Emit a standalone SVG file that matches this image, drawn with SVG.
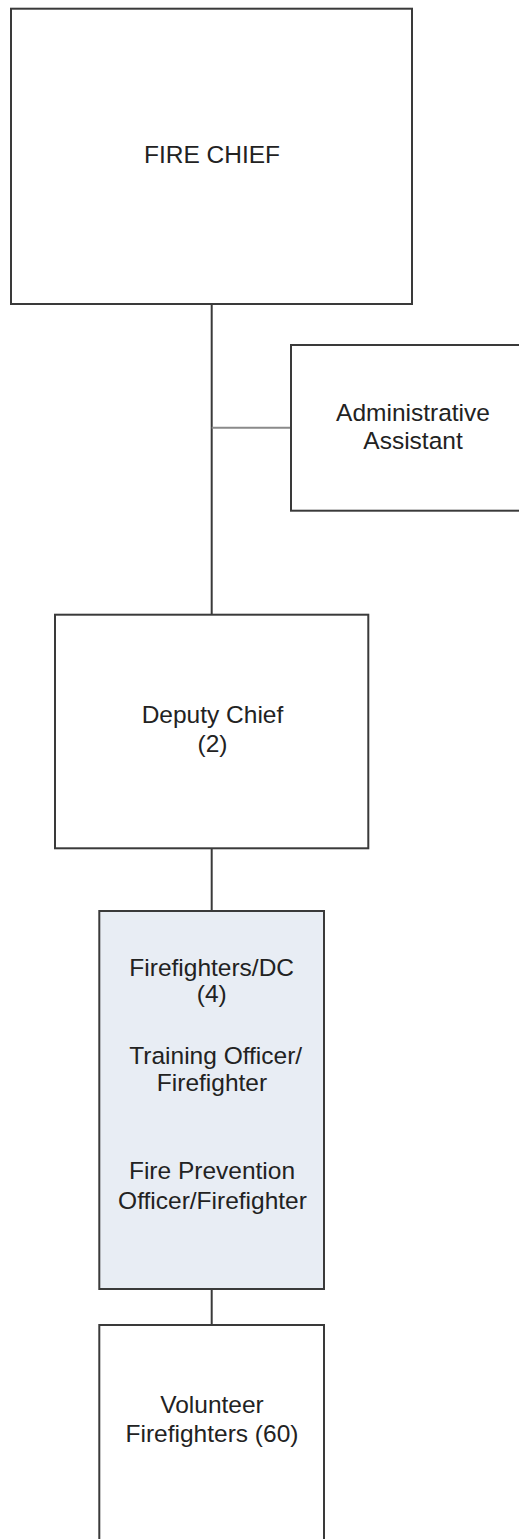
<svg xmlns="http://www.w3.org/2000/svg" width="519" height="1539" viewBox="0 0 519 1539">
<style>
.box{fill:#ffffff;stroke:#3a3a3a;stroke-width:2}
.shaded{fill:#e8edf4;stroke:#3a3a3a;stroke-width:2}
.lbl{font-family:"Liberation Sans",Arial,sans-serif;font-size:24.5px;fill:#222222;text-anchor:middle}
.conn{stroke:#3a3a3a;stroke-width:2;fill:none}
.conn2{stroke:#8a8a8a;stroke-width:2;fill:none}
</style>
<rect width="519" height="1539" fill="#ffffff"/>
<g id="connectors">
<line class="conn" x1="211.7" y1="304" x2="211.7" y2="615"/>
<line class="conn2" x1="211.7" y1="427.7" x2="291" y2="427.7"/>
<line class="conn" x1="211.7" y1="848" x2="211.7" y2="911"/>
<line class="conn" x1="211.7" y1="1289" x2="211.7" y2="1325"/>
</g>
<g id="fire-chief">
<rect class="box" x="11" y="8.7" width="401" height="295.3"/>
<text class="lbl" x="212" y="163">FIRE CHIEF</text>
</g>
<g id="admin-assistant">
<rect class="box" x="291" y="345" width="240" height="165.7"/>
<text class="lbl" x="413" y="420.5">Administrative</text>
<text class="lbl" x="413" y="448.5">Assistant</text>
</g>
<g id="deputy-chief">
<rect class="box" x="55" y="614.7" width="313.3" height="233.6"/>
<text class="lbl" x="212.5" y="723">Deputy Chief</text>
<text class="lbl" x="212.5" y="752">(2)</text>
</g>
<g id="firefighters-dc">
<rect class="shaded" x="99.3" y="911" width="224.7" height="378"/>
<text class="lbl" x="211.7" y="976">Firefighters/DC</text>
<text class="lbl" x="211.7" y="1002">(4)</text>
<text class="lbl" x="215.7" y="1064">Training Officer/</text>
<text class="lbl" x="212" y="1091">Firefighter</text>
<text class="lbl" x="212" y="1179">Fire Prevention</text>
<text class="lbl" x="212.5" y="1209">Officer/Firefighter</text>
</g>
<g id="volunteer-firefighters">
<rect class="box" x="99.3" y="1325" width="224.7" height="240"/>
<text class="lbl" x="212" y="1412.5">Volunteer</text>
<text class="lbl" x="212" y="1441.5">Firefighters (60)</text>
</g>
</svg>
